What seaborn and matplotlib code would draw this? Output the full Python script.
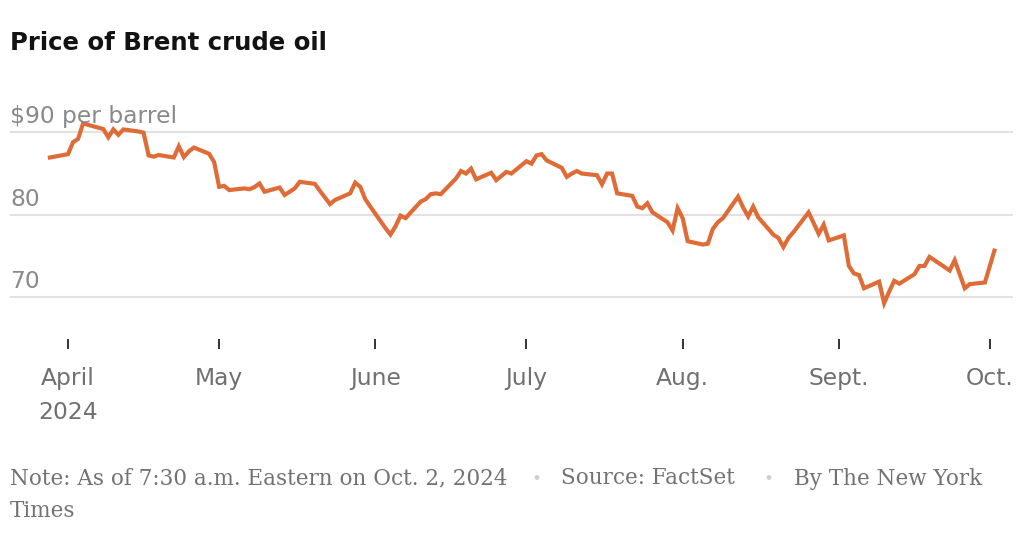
import matplotlib
matplotlib.use("Agg")
import matplotlib.pyplot as plt
import matplotlib.dates as mdates
import seaborn as sns
import pandas as pd
import numpy as np

# ---- data ----
dates = [
    "2024-03-28",
    "2024-04-01", "2024-04-02", "2024-04-03", "2024-04-04", "2024-04-05",
    "2024-04-08", "2024-04-09", "2024-04-10", "2024-04-11", "2024-04-12",
    "2024-04-15", "2024-04-16", "2024-04-17", "2024-04-18", "2024-04-19",
    "2024-04-22", "2024-04-23", "2024-04-24", "2024-04-25", "2024-04-26",
    "2024-04-29", "2024-04-30", "2024-05-01", "2024-05-02", "2024-05-03",
    "2024-05-06", "2024-05-07", "2024-05-08", "2024-05-09", "2024-05-10",
    "2024-05-13", "2024-05-14", "2024-05-15", "2024-05-16", "2024-05-17",
    "2024-05-20", "2024-05-21", "2024-05-22", "2024-05-23", "2024-05-24",
    "2024-05-27", "2024-05-28", "2024-05-29", "2024-05-30", "2024-05-31",
    "2024-06-03", "2024-06-04", "2024-06-05", "2024-06-06", "2024-06-07",
    "2024-06-10", "2024-06-11", "2024-06-12", "2024-06-13", "2024-06-14",
    "2024-06-17", "2024-06-18", "2024-06-19", "2024-06-20", "2024-06-21",
    "2024-06-24", "2024-06-25", "2024-06-26", "2024-06-27", "2024-06-28",
    "2024-07-01", "2024-07-02", "2024-07-03", "2024-07-04", "2024-07-05",
    "2024-07-08", "2024-07-09", "2024-07-10", "2024-07-11", "2024-07-12",
    "2024-07-15", "2024-07-16", "2024-07-17", "2024-07-18", "2024-07-19",
    "2024-07-22", "2024-07-23", "2024-07-24", "2024-07-25", "2024-07-26",
    "2024-07-29", "2024-07-30", "2024-07-31", "2024-08-01", "2024-08-02",
    "2024-08-05", "2024-08-06", "2024-08-07", "2024-08-08", "2024-08-09",
    "2024-08-12", "2024-08-13", "2024-08-14", "2024-08-15", "2024-08-16",
    "2024-08-19", "2024-08-20", "2024-08-21", "2024-08-22", "2024-08-23",
    "2024-08-26", "2024-08-27", "2024-08-28", "2024-08-29", "2024-08-30",
    "2024-09-02", "2024-09-03", "2024-09-04", "2024-09-05", "2024-09-06",
    "2024-09-09", "2024-09-10", "2024-09-11", "2024-09-12", "2024-09-13",
    "2024-09-16", "2024-09-17", "2024-09-18", "2024-09-19", "2024-09-20",
    "2024-09-23", "2024-09-24", "2024-09-25", "2024-09-26", "2024-09-27",
    "2024-09-30", "2024-10-02",
]
prices = [
    86.9,
    87.35, 88.8, 89.2, 91.1, 90.9,
    90.4, 89.4, 90.35, 89.7, 90.35,
    90.1, 89.95, 87.2, 87.05, 87.25,
    86.95, 88.3, 87.0, 87.7, 88.15,
    87.4, 86.4, 83.4, 83.5, 83.0,
    83.2, 83.1, 83.35, 83.8, 82.8,
    83.3, 82.4, 82.8, 83.2, 84.0,
    83.75, 82.9, 82.1, 81.3, 81.8,
    82.6, 83.9, 83.4, 81.9, 81.0,
    78.4, 77.6, 78.6, 79.9, 79.6,
    81.6, 81.9, 82.5, 82.6, 82.5,
    84.4, 85.3, 85.0, 85.6, 84.3,
    85.1, 84.2, 84.7, 85.2, 85.0,
    86.5, 86.2, 87.2, 87.35, 86.6,
    85.7, 84.6, 85.0, 85.3, 85.0,
    84.8, 83.7, 85.0, 85.0, 82.6,
    82.3, 81.0, 80.8, 81.4, 80.3,
    79.1, 78.1, 80.8, 79.6, 76.8,
    76.4, 76.5, 78.3, 79.1, 79.6,
    82.2, 80.9, 79.8, 81.0, 79.7,
    77.6, 77.2, 76.1, 77.2, 77.9,
    80.3, 79.0, 77.7, 78.8, 76.9,
    77.5, 73.8, 72.9, 72.7, 71.1,
    71.9, 69.3, 70.7, 72.0, 71.65,
    72.8, 73.8, 73.8, 74.9, 74.5,
    73.25, 74.5, 72.8, 71.1, 71.6,
    71.8, 75.9,
]
y_ticks = [70, 80, 90]
y_labels = ["70", "80", "$90 per barrel"]
x_tick_dates = ["2024-04-01", "2024-05-01", "2024-06-01", "2024-07-01",
                "2024-08-01", "2024-09-01", "2024-10-01"]
x_tick_labels = ["April\n2024", "May", "June", "July", "Aug.", "Sept.", "Oct."]

title = "Price of Brent crude oil"
note = "Note: As of 7:30 a.m. Eastern on Oct. 2, 2024"
source = "Source: FactSet"
credit1 = "By The New York"
credit2 = "Times"

df = pd.DataFrame({"date": pd.to_datetime(dates), "price": prices})

# ---- style ----
sns.set_style("white")
plt.rcParams["font.family"] = ["DejaVu Sans"]

W, H = 1024, 536
fig = plt.figure(figsize=(W / 100, H / 100), dpi=100)
ax = fig.add_axes([10 / W, 1 - 339 / H, (1013 - 10) / W, (339 - 115.8) / H])

line_color = "#df6c36"
sns.lineplot(data=df, x="date", y="price", ax=ax, color=line_color,
             linewidth=3.0, solid_joinstyle="miter", solid_capstyle="butt")

# limits
apr1 = mdates.date2num(pd.Timestamp("2024-04-01"))
px_per_day = 5.038
ax.set_xlim(apr1 + (10 - 68) / px_per_day, apr1 + (1013 - 68) / px_per_day)
ax.set_ylim(64.95, 92.0)

# gridlines
for v in y_ticks:
    ax.axhline(v, color="#e2e2e2", linewidth=1.5, zorder=0)

# y labels above gridlines
ax.set_yticks([])
for v, lab in zip(y_ticks, y_labels):
    ax.annotate(lab, xy=(0, v), xycoords=("axes fraction", "data"),
                xytext=(0, 6.5), textcoords="offset points",
                ha="left", va="baseline", fontsize=16.8, color="#8a8a8a")

# x ticks
ax.set_xticks([mdates.date2num(pd.Timestamp(d)) for d in x_tick_dates])
ax.set_xticklabels(x_tick_labels)
ax.tick_params(axis="x", direction="out", length=7.5, width=1.4, color="#333333",
               pad=12.5, labelsize=16.8, labelcolor="#707070", bottom=True)
for lab in ax.get_xticklabels():
    lab.set_linespacing(1.6)

ax.set_xlabel("")
ax.set_ylabel("")
for s in ax.spines.values():
    s.set_visible(False)
ax.set_facecolor("white")

# title
fig.text(10 / W, 1 - 50 / H, title, ha="left", va="baseline",
         fontsize=17.6, fontweight="bold", color="#121212")

# footer
fkw = dict(ha="left", va="baseline", fontsize=15.5, color="#727272",
           family=["DejaVu Serif"])
y1 = 1 - 484.5 / H
y2 = 1 - 516.7 / H
fig.text(10 / W, y1, note, **fkw)
fig.text(532 / W, y1, "\u2022", ha="left", va="baseline", fontsize=12,
         color="#d0d0d0")
fig.text(561 / W, y1, source, **fkw)
fig.text(764 / W, y1, "\u2022", ha="left", va="baseline", fontsize=12,
         color="#d0d0d0")
fig.text(794 / W, y1, credit1, **fkw)
fig.text(10 / W, y2, credit2, **fkw)

fig.savefig("out.png", dpi=100, facecolor="white")
